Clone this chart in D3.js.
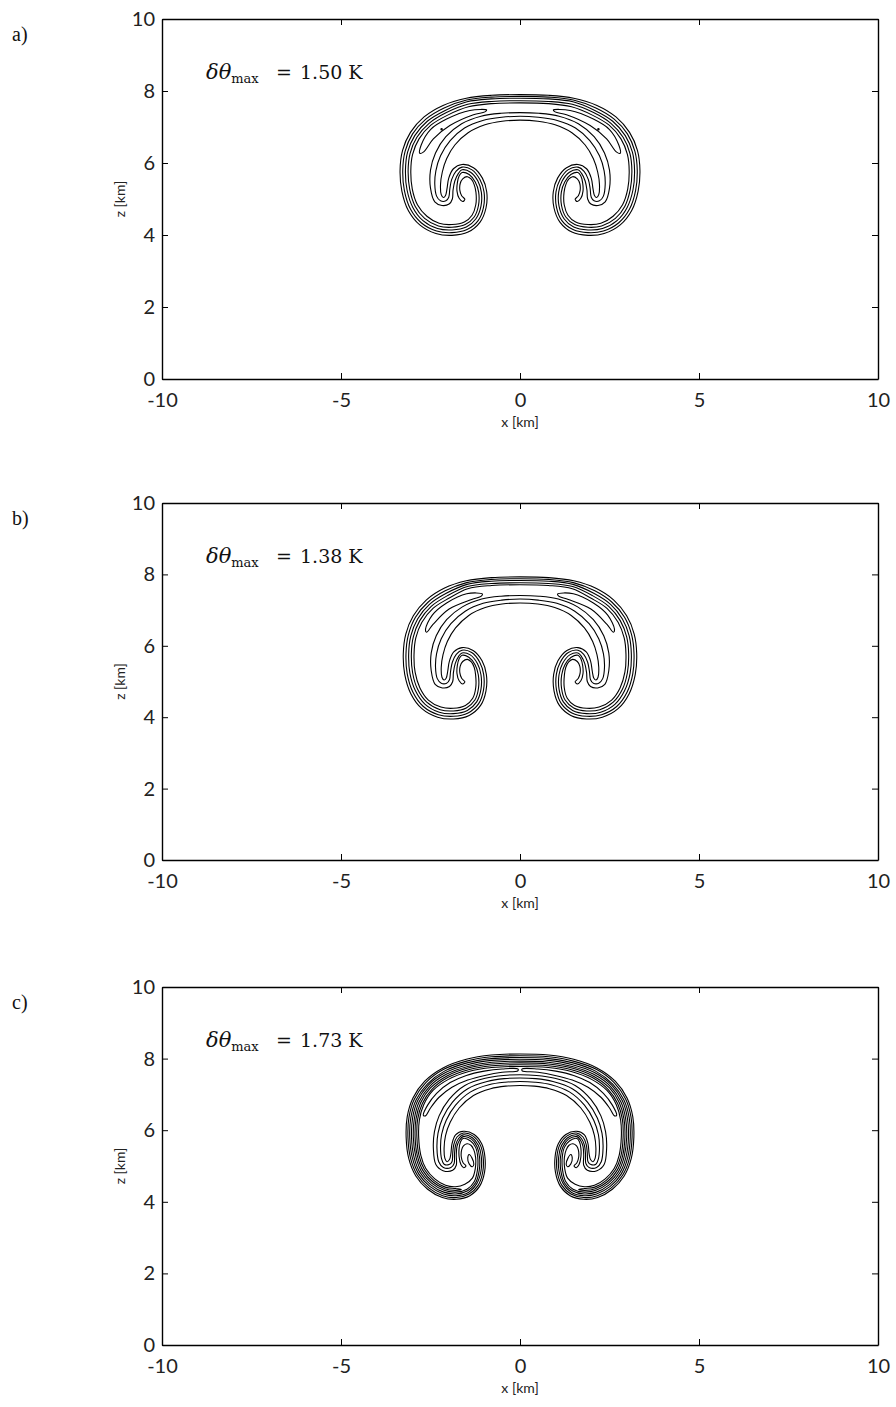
<!DOCTYPE html>
<html>
<head>
<meta charset="utf-8">
<script src="https://cdn.jsdelivr.net/npm/d3@7"></script>
<style>
  body { margin: 0; background: #fff; }
  svg { display: block; }
</style>
</head>
<body>
<svg id="fig" width="896" height="1407"></svg>
<script>
// Potential temperature perturbation of a rising warm bubble, three runs.
// Each contour is stored as its right half (x >= 0, km), running from the
// crossing at the cap top round to the crossing under the arch; the left
// half is its mirror image. Side loops are mirrored as separate rings.

const xTicks = [-10, -5, 0, 5, 10];
const zTicks = [0, 2, 4, 6, 8, 10];
const panelLetters = ["a)", "b)", "c)"];
const maxValues = ["1.50", "1.38", "1.73"];

// ---------- run a ----------
const aK0 = [[0,7.90],[0.80,7.88],[1.50,7.80],[2.15,7.60],[2.68,7.28],[3.06,6.85],[3.28,6.35],[3.35,5.80],[3.30,5.22],[3.12,4.68],[2.80,4.28],[2.35,4.04],[1.90,3.99],[1.45,4.08],[1.12,4.35],[0.95,4.75],[0.93,5.20],[1.05,5.58],[1.30,5.87],[1.62,5.96],[1.86,5.84],[1.99,5.58],[2.04,5.28],[2.08,5.10],[2.14,5.04],[2.20,5.12],[2.22,5.40],[2.17,5.75],[2.05,6.12],[1.82,6.50],[1.45,6.84],[0.98,7.06],[0.50,7.16],[0,7.19]];
const aK1 = [[0,7.85],[0.80,7.83],[1.49,7.75],[2.12,7.53],[2.63,7.22],[3.00,6.81],[3.21,6.32],[3.275,5.80],[3.23,5.24],[3.06,4.72],[2.76,4.34],[2.33,4.11],[1.90,4.065],[1.48,4.15],[1.17,4.40],[1.02,4.77],[1.005,5.20],[1.12,5.54],[1.34,5.81],[1.62,5.885],[1.79,5.77],[1.91,5.54],[1.96,5.28],[1.99,5.05],[2.07,4.95],[2.22,4.95],[2.33,5.08],[2.38,5.40],[2.35,5.78],[2.22,6.20],[1.95,6.62],[1.55,6.97],[1.04,7.18],[0.51,7.27],[0,7.30]];
const aK2 = [[0,7.80],[0.80,7.78],[1.48,7.70],[2.09,7.46],[2.59,7.16],[2.94,6.76],[3.14,6.30],[3.20,5.79],[3.155,5.25],[2.99,4.76],[2.71,4.40],[2.305,4.18],[1.90,4.14],[1.50,4.22],[1.23,4.45],[1.09,4.80],[1.08,5.19],[1.18,5.505],[1.38,5.745],[1.62,5.81],[1.72,5.71],[1.82,5.50],[1.87,5.25],[1.89,5.00],[1.98,4.86],[2.18,4.82],[2.38,4.92],[2.50,5.30],[2.50,5.80],[2.36,6.28],[2.07,6.73],[1.63,7.09],[1.09,7.30],[0.53,7.38],[0,7.40]];
const aK3 = [[0,7.73],[0.79,7.71],[1.46,7.63],[2.055,7.40],[2.54,7.10],[2.88,6.715],[3.07,6.27],[3.125,5.79],[3.08,5.265],[2.93,4.80],[2.665,4.46],[2.28,4.25],[1.90,4.215],[1.53,4.29],[1.28,4.50],[1.16,4.82],[1.155,5.19],[1.25,5.47],[1.42,5.68],[1.62,5.735],[1.70,5.64],[1.75,5.45],[1.76,5.22],[1.70,5.02],[1.60,4.93],[1.54,4.99],[1.63,5.09],[1.68,5.24],[1.67,5.43],[1.60,5.56],[1.47,5.62],[1.36,5.55],[1.28,5.40],[1.23,5.185],[1.235,4.84],[1.34,4.55],[1.555,4.36],[1.90,4.29],[2.26,4.325],[2.60,4.52],[2.865,4.84],[3.01,5.28],[3.05,5.785],[3.00,6.24],[2.82,6.67],[2.49,7.05],[2.02,7.33],[1.44,7.56],[0.79,7.65],[0,7.67]];
const aPocket = [[0.93,7.47],[1.40,7.46],[2.05,7.22],[2.50,6.93],[2.76,6.50],[2.80,6.27],[2.69,6.31],[2.42,6.67],[1.96,7.04],[1.30,7.34],[0.98,7.42]];
const aDots = [[2.19,6.94]];

// ---------- run b ----------
const bK0 = [[0,7.93],[0.80,7.91],[1.50,7.82],[2.12,7.61],[2.62,7.28],[2.98,6.84],[3.19,6.33],[3.26,5.78],[3.22,5.20],[3.05,4.66],[2.74,4.24],[2.30,4.00],[1.86,3.95],[1.42,4.05],[1.10,4.33],[0.95,4.74],[0.94,5.20],[1.06,5.58],[1.31,5.87],[1.62,5.95],[1.85,5.83],[1.97,5.58],[2.02,5.28],[2.06,5.10],[2.12,5.04],[2.18,5.12],[2.20,5.40],[2.15,5.75],[2.03,6.12],[1.80,6.50],[1.43,6.85],[0.97,7.07],[0.50,7.17],[0,7.20]];
const bK1 = [[0,7.88],[0.80,7.86],[1.49,7.77],[2.09,7.54],[2.57,7.22],[2.92,6.80],[3.12,6.30],[3.185,5.78],[3.15,5.215],[2.99,4.70],[2.70,4.30],[2.28,4.07],[1.86,4.025],[1.45,4.12],[1.155,4.38],[1.02,4.76],[1.015,5.20],[1.125,5.54],[1.35,5.81],[1.62,5.875],[1.78,5.76],[1.89,5.54],[1.94,5.28],[1.97,5.05],[2.05,4.95],[2.20,4.95],[2.31,5.08],[2.36,5.40],[2.33,5.78],[2.20,6.20],[1.93,6.62],[1.53,6.97],[1.03,7.19],[0.51,7.28],[0,7.31]];
const bK2 = [[0,7.83],[0.80,7.81],[1.48,7.72],[2.06,7.47],[2.53,7.16],[2.86,6.75],[3.05,6.28],[3.11,5.77],[3.075,5.23],[2.92,4.74],[2.65,4.36],[2.255,4.14],[1.86,4.10],[1.47,4.19],[1.21,4.43],[1.09,4.785],[1.09,5.19],[1.19,5.505],[1.39,5.745],[1.62,5.80],[1.71,5.71],[1.81,5.50],[1.86,5.25],[1.88,5.00],[1.97,4.86],[2.17,4.82],[2.37,4.92],[2.48,5.30],[2.48,5.80],[2.34,6.28],[2.05,6.73],[1.61,7.09],[1.07,7.31],[0.53,7.39],[0,7.41]];
const bK3 = [[0,7.765],[0.79,7.745],[1.47,7.66],[2.025,7.405],[2.48,7.105],[2.80,6.705],[2.98,6.25],[3.035,5.77],[3.00,5.245],[2.86,4.78],[2.605,4.42],[2.23,4.21],[1.86,4.175],[1.50,4.26],[1.26,4.48],[1.16,4.81],[1.165,5.19],[1.255,5.47],[1.43,5.68],[1.62,5.735],[1.70,5.64],[1.75,5.45],[1.76,5.22],[1.70,5.02],[1.60,4.93],[1.54,4.99],[1.63,5.09],[1.68,5.24],[1.67,5.43],[1.60,5.56],[1.47,5.62],[1.36,5.55],[1.28,5.40],[1.24,5.185],[1.235,4.84],[1.32,4.53],[1.525,4.33],[1.86,4.25],[2.21,4.285],[2.56,4.48],[2.795,4.82],[2.93,5.26],[2.96,5.765],[2.91,6.22],[2.74,6.66],[2.43,7.05],[1.99,7.33],[1.46,7.60],[0.79,7.69],[0,7.71]];
const bPocket = [[1.05,7.45],[1.49,7.46],[2.05,7.20],[2.45,6.86],[2.64,6.46],[2.61,6.38],[2.43,6.60],[1.98,7.03],[1.35,7.30],[1.08,7.39]];
const bDots = [];

// ---------- run c ----------
const cK0 = [[0,8.13],[0.80,8.10],[1.50,7.98],[2.15,7.74],[2.66,7.37],[2.99,6.90],[3.15,6.38],[3.18,5.80],[3.11,5.22],[2.91,4.72],[2.58,4.35],[2.17,4.12],[1.78,4.07],[1.40,4.17],[1.13,4.43],[0.99,4.83],[0.98,5.26],[1.07,5.62],[1.28,5.88],[1.58,5.97],[1.80,5.87],[1.90,5.62],[1.93,5.35],[1.97,5.18],[2.04,5.12],[2.10,5.22],[2.12,5.50],[2.08,5.85],[1.95,6.22],[1.70,6.62],[1.30,6.97],[0.82,7.16],[0.40,7.23],[0,7.25]];
const cK1 = [[0,8.08],[0.80,8.05],[1.49,7.93],[2.13,7.70],[2.63,7.33],[2.95,6.87],[3.10,6.37],[3.13,5.80],[3.06,5.23],[2.87,4.75],[2.55,4.39],[2.16,4.17],[1.78,4.12],[1.42,4.22],[1.17,4.46],[1.04,4.84],[1.03,5.255],[1.11,5.59],[1.305,5.835],[1.58,5.92],[1.76,5.81],[1.85,5.60],[1.88,5.35],[1.90,5.12],[1.98,5.04],[2.12,5.05],[2.19,5.20],[2.22,5.50],[2.19,5.88],[2.06,6.28],[1.80,6.70],[1.38,7.07],[0.87,7.27],[0.42,7.34],[0,7.36]];
const cK2 = [[0,8.03],[0.80,8.00],[1.48,7.88],[2.11,7.65],[2.59,7.29],[2.90,6.85],[3.05,6.35],[3.08,5.80],[3.01,5.24],[2.83,4.78],[2.52,4.43],[2.14,4.22],[1.79,4.17],[1.44,4.26],[1.21,4.50],[1.09,4.86],[1.08,5.25],[1.16,5.57],[1.33,5.79],[1.59,5.87],[1.72,5.76],[1.80,5.58],[1.83,5.33],[1.84,5.07],[1.93,4.96],[2.14,4.96],[2.27,5.12],[2.32,5.50],[2.29,5.92],[2.16,6.34],[1.89,6.78],[1.46,7.16],[0.92,7.36],[0.44,7.44],[0,7.46]];
const cK3 = [[0,7.98],[0.79,7.95],[1.47,7.83],[2.08,7.61],[2.56,7.26],[2.86,6.82],[3.00,6.34],[3.03,5.80],[2.96,5.25],[2.79,4.81],[2.50,4.48],[2.13,4.27],[1.79,4.22],[1.46,4.31],[1.24,4.53],[1.14,4.87],[1.13,5.245],[1.20,5.54],[1.355,5.75],[1.59,5.82],[1.69,5.72],[1.76,5.55],[1.78,5.30],[1.78,5.02],[1.88,4.88],[2.15,4.87],[2.35,5.04],[2.42,5.50],[2.39,5.96],[2.26,6.40],[1.98,6.86],[1.54,7.25],[0.97,7.45],[0.46,7.53],[0,7.55]];
const cK4 = [[0,7.93],[0.79,7.90],[1.46,7.78],[2.06,7.56],[2.53,7.22],[2.82,6.79],[2.95,6.33],[2.98,5.80],[2.91,5.26],[2.75,4.84],[2.47,4.52],[2.12,4.32],[1.79,4.27],[1.48,4.35],[1.28,4.56],[1.19,4.88],[1.18,5.24],[1.24,5.52],[1.38,5.70],[1.59,5.77],[1.66,5.68],[1.70,5.50],[1.70,5.25],[1.65,5.04],[1.57,4.95],[1.51,5.00],[1.59,5.09],[1.64,5.25],[1.63,5.45],[1.58,5.56],[1.48,5.62],[1.37,5.58],[1.29,5.45],[1.24,5.24],[1.25,4.92],[1.33,4.66],[1.54,4.49],[1.80,4.42],[2.08,4.46],[2.38,4.64],[2.63,4.93],[2.77,5.30],[2.83,5.80],[2.81,6.29],[2.69,6.71],[2.43,7.11],[2.00,7.42],[1.43,7.64],[0.79,7.75],[0,7.78]];
const cK5 = [[0,7.88],[0.79,7.85],[1.45,7.735],[2.04,7.515],[2.50,7.18],[2.775,6.765],[2.905,6.315],[2.93,5.80],[2.865,5.275],[2.71,4.87],[2.44,4.56],[2.105,4.365],[1.795,4.32],[1.64,4.345],[1.80,4.37],[2.09,4.41],[2.41,4.60],[2.67,4.90],[2.82,5.29],[2.88,5.80],[2.86,6.30],[2.73,6.74],[2.46,7.14],[2.02,7.47],[1.44,7.69],[0.79,7.80],[0,7.83]];
const cPocket = [[0.06,7.71],[0.50,7.71],[1.00,7.65],[1.50,7.53],[1.95,7.33],[2.33,7.03],[2.58,6.70],[2.70,6.42],[2.64,6.40],[2.50,6.62],[2.26,6.92],[1.90,7.20],[1.46,7.40],[0.98,7.53],[0.50,7.62],[0.06,7.66]];
const cLens = [[1.42,5.32],[1.46,5.22],[1.42,5.06],[1.33,4.98],[1.29,5.05],[1.34,5.22]];
const cDots = [];

const runs = [
  { centred: [aK0, aK1, aK2, aK3], loops: [aPocket], dots: aDots },
  { centred: [bK0, bK1, bK2, bK3], loops: [bPocket], dots: bDots },
  { centred: [cK0, cK1, cK2, cK3, cK4, cK5], loops: [cPocket, cLens], dots: cDots }
];

// ---------- layout ----------
const W = 896, H = 1407;
const plotLeft = 162, plotRight = 878;
const plotTops = [19, 503, 987];
const plotBottoms = [379, 860, 1345];

const svg = d3.select("#fig");
svg.append("rect").attr("width", W).attr("height", H).attr("fill", "#fff");

const tickFont = "Lato, 'Open Sans', sans-serif";
const serifFont = "'DejaVu Serif', 'Liberation Serif', serif";

const mirror = p => [-p[0], p[1]];
const fullRing = half => half.concat(half.slice(1, -1).reverse().map(mirror));

runs.forEach((run, i) => {
  const x = d3.scaleLinear().domain([-10, 10]).range([plotLeft, plotRight]);
  const z = d3.scaleLinear().domain([0, 10]).range([plotBottoms[i], plotTops[i]]);
  const g = svg.append("g");

  const ring = d3.line()
    .x(d => x(d[0]))
    .y(d => z(d[1]))
    .curve(d3.curveCatmullRomClosed.alpha(0.5));

  const cg = g.append("g")
    .attr("fill", "none")
    .attr("stroke", "#000")
    .attr("stroke-width", 1.1)
    .attr("stroke-linejoin", "round");

  run.centred.forEach(half => {
    cg.append("path").attr("d", ring(fullRing(half)));
  });
  run.loops.forEach(loop => {
    cg.append("path").attr("d", ring(loop));
    cg.append("path").attr("d", ring(loop.map(mirror)));
  });
  run.dots.forEach(p => {
    [p, mirror(p)].forEach(q => {
      cg.append("circle").attr("cx", x(q[0])).attr("cy", z(q[1])).attr("r", 0.7);
    });
  });

  // axes: ticks point inward on all four sides
  const styleAxis = sel => {
    sel.select(".domain").attr("stroke", "#000").attr("stroke-width", 1.4);
    sel.selectAll(".tick line").attr("stroke", "#000").attr("stroke-width", 1);
    sel.selectAll(".tick text")
      .attr("fill", "#222")
      .attr("font-family", tickFont)
      .attr("font-size", 20);
  };

  g.append("g")
    .attr("transform", `translate(0,${plotBottoms[i]})`)
    .call(d3.axisBottom(x).tickValues(xTicks).tickSizeInner(-6).tickSizeOuter(0).tickPadding(14)
      .tickFormat(d => String(d)))
    .call(styleAxis);

  g.append("g")
    .attr("transform", `translate(${plotLeft},0)`)
    .call(d3.axisLeft(z).tickValues(zTicks).tickSizeInner(-6).tickSizeOuter(0).tickPadding(7)
      .tickFormat(d => String(d)))
    .call(styleAxis);

  g.append("g")
    .attr("transform", `translate(0,${plotTops[i]})`)
    .call(d3.axisTop(x).tickValues(xTicks).tickSizeInner(-6).tickSizeOuter(0).tickFormat(""))
    .call(styleAxis);

  g.append("g")
    .attr("transform", `translate(${plotRight},0)`)
    .call(d3.axisRight(z).tickValues(zTicks).tickSizeInner(-6).tickSizeOuter(0).tickFormat(""))
    .call(styleAxis);

  // axis titles
  g.append("text")
    .attr("x", (plotLeft + plotRight) / 2)
    .attr("y", plotBottoms[i] + 48)
    .attr("text-anchor", "middle")
    .attr("font-family", tickFont)
    .attr("font-size", 14)
    .attr("fill", "#222")
    .text("x [km]");

  g.append("text")
    .attr("transform", `translate(125,${(plotTops[i] + plotBottoms[i]) / 2}) rotate(-90)`)
    .attr("text-anchor", "middle")
    .attr("font-family", tickFont)
    .attr("font-size", 14)
    .attr("fill", "#222")
    .text("z [km]");

  // panel letter
  g.append("text")
    .attr("x", 12)
    .attr("y", plotTops[i] + 22)
    .attr("font-family", "'Liberation Serif', serif")
    .attr("font-size", 20)
    .attr("fill", "#111")
    .text(panelLetters[i]);

  // maximum perturbation label
  const baseY = plotTops[i] + 60;
  const t = g.append("text")
    .attr("x", 206)
    .attr("y", baseY)
    .attr("font-family", serifFont)
    .attr("font-size", 19)
    .attr("fill", "#111");
  t.append("tspan").attr("font-style", "italic").attr("font-size", 21).text("δθ");
  t.append("tspan").attr("font-size", 13).attr("dy", 4).text("max");
  t.append("tspan").attr("x", 276).attr("y", baseY).text("=");
  t.append("tspan").attr("x", 300).attr("y", baseY).text(maxValues[i] + " K");
});
</script>
</body>
</html>
